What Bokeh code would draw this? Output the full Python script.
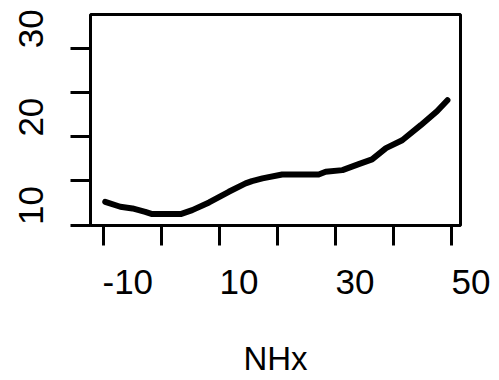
from bokeh.plotting import figure
from bokeh.models import Range1d, FixedTicker
from bokeh.embed import file_html
from bokeh.resources import INLINE

# ---- data ----
nhx = [-9.7, -7.1, -5.0, -2.8, -1.6, 3.3, 5.3, 8.2, 11.6, 14.5, 15.6, 17.4,
       20.8, 27.1, 28.3, 31.2, 34.0, 36.3, 38.7, 41.5, 44.7, 47.5, 49.3]
fit = [12.63, 12.07, 11.88, 11.5, 11.24, 11.24, 11.69, 12.56, 13.76, 14.71,
       14.97, 15.27, 15.72, 15.72, 16.02, 16.21, 16.88, 17.42, 18.7, 19.59,
       21.29, 22.87, 24.11]

x_ticks = [-10, 0, 10, 20, 30, 40, 50]
x_tick_labels = {-10: "-10", 0: "", 10: "10", 20: "", 30: "30", 40: "", 50: "50"}
y_ticks = [10, 15, 20, 25, 30]
y_tick_labels = {10: "10", 15: "", 20: "20", 25: "", 30: "30"}
x_title = "NHx"

FONT = "Liberation Sans"
NB = "\u00a0"


def pad(s):
    # tick labels in the reference start at the tick instead of centring on it:
    # pad with non-breaking spaces so the visible text begins at the tick
    if not s:
        return s
    n = 5 if s.startswith("-") else 4
    return NB * n + s


p = figure(width=499, height=380, output_backend="svg", toolbar_location=None,
           x_range=Range1d(-12.24, 51.55), y_range=Range1d(9.95, 33.8),
           min_border_left=90, min_border_right=39, min_border_top=14,
           min_border_bottom=155)

p.grid.visible = False
p.background_fill_color = "white"
p.border_fill_color = "white"
p.outline_line_color = "black"
p.outline_line_width = 3

for ax, ticks, labels in ((p.xaxis, x_ticks, x_tick_labels),
                          (p.yaxis, y_ticks, y_tick_labels)):
    ax.ticker = FixedTicker(ticks=ticks)
    ax.axis_line_color = None
    ax.major_tick_out = 20
    ax.major_tick_in = 0
    ax.major_tick_line_width = 3
    ax.major_tick_line_color = "black"
    ax.minor_tick_line_color = None
    ax.major_label_overrides = {t: pad(labels[t]) for t in ticks}
    ax.major_label_text_font = FONT
    ax.major_label_text_font_size = "35px"
    ax.major_label_text_color = "black"

p.xaxis.major_label_standoff = 16
p.yaxis.major_label_standoff = 20
p.yaxis.major_label_orientation = "parallel"

p.xaxis.axis_label = x_title
p.xaxis.axis_label_text_font = FONT
p.xaxis.axis_label_text_font_size = "33px"
p.xaxis.axis_label_text_font_style = "normal"
p.xaxis.axis_label_text_color = "black"
p.xaxis.axis_label_standoff = 36

p.line(nhx, fit, line_width=6, line_color="black",
       line_join="round", line_cap="round")

open("out.html", "w").write(file_html(p, INLINE))
